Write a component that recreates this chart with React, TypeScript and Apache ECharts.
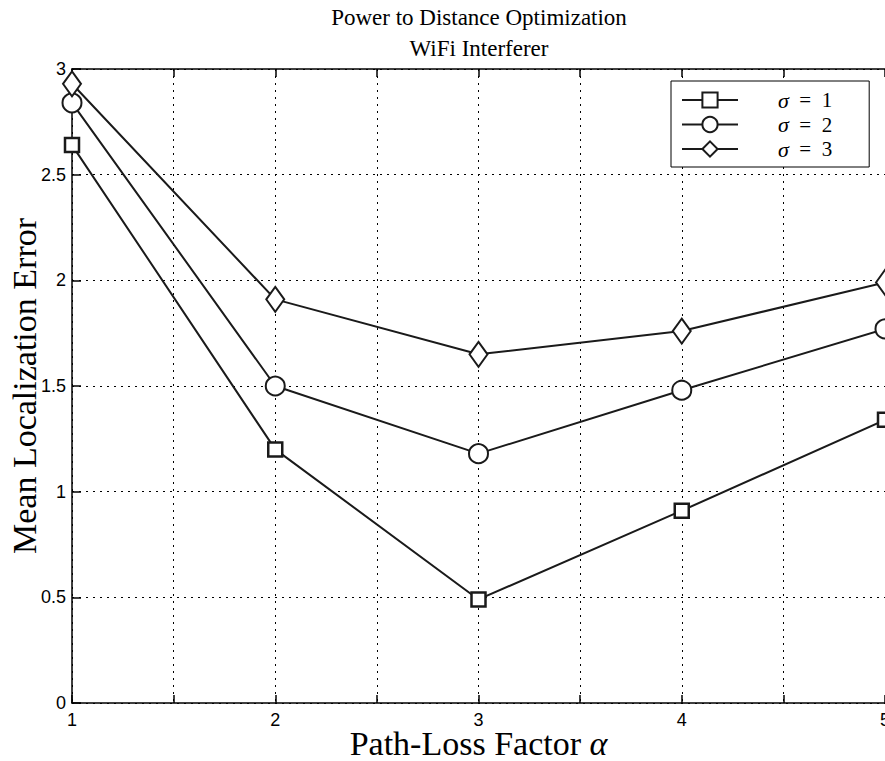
import React, { useEffect, useRef } from "react";
import * as echarts from "echarts";

const xValues = [1, 2, 3, 4, 5];
const sigma1 = [2.64, 1.2, 0.49, 0.91, 1.34];
const sigma2 = [2.84, 1.5, 1.18, 1.48, 1.77];
const sigma3 = [2.93, 1.91, 1.65, 1.76, 1.99];
const seriesNames = ["σ = 1", "σ = 2", "σ = 3"];
const xTickLabels = ["1", "2", "3", "4", "5"];
const titleLines = ["Power to Distance Optimization", "WiFi Interferer"];
const xAxisName = "Path-Loss Factor";
const yAxisName = "Mean Localization Error";

const LINE = "#1a1a1a";
const SERIF = "'Liberation Serif', 'Times New Roman', serif";
const SANS = "'Liberation Sans', Arial, Helvetica, sans-serif";

export default function App() {
  const ref = useRef<HTMLDivElement>(null);
  useEffect(() => {
    if (!ref.current) return;
    const chart = echarts.init(ref.current, undefined, { renderer: "svg" });
    const mk = (name: string, vals: number[], symbol: string, size: any, bw: number) => ({
      name,
      type: "line",
      data: xValues.map((x, i) => [x, vals[i]]),
      symbol,
      symbolSize: size,
      showAllSymbol: true,
      lineStyle: { color: LINE, width: 2 },
      itemStyle: { color: "#ffffff", borderColor: LINE, borderWidth: bw },
      emphasis: { disabled: true },
      clip: false,
    });
    const dotted = { show: true, lineStyle: { color: "#000", width: 1, type: [2, 5] } };
    chart.setOption({
      animation: false,
      backgroundColor: "#ffffff",
      title: {
        text: titleLines.join("\n"),
        left: 479,
        top: 2,
        padding: 0,
        textAlign: "center",
        textStyle: { fontFamily: SERIF, fontSize: 23, fontWeight: "normal", color: "#000", lineHeight: 31 },
      },
      grid: { left: 72, right: 0, top: 69, bottom: 58, containLabel: false, outerBoundsMode: "none" },
      legend: {
        orient: "vertical",
        left: 671,
        top: 81,
        padding: [8, 37, 7, 10],
        borderColor: "#000",
        borderWidth: 1,
        backgroundColor: "#fff",
        itemWidth: 56,
        itemHeight: 19,
        itemGap: 2.5,
        data: seriesNames,
        formatter: (n: string) => `{i|σ}{n|${n.slice(1).replace(/ /g, "  ")}}`,
        textStyle: {
          fontFamily: SERIF,
          fontSize: 21,
          lineHeight: 19,
          color: "#000",
          padding: [0, 0, 0, 35],
          rich: {
            i: { fontFamily: SERIF, fontSize: 22, lineHeight: 19, fontStyle: "italic", color: "#000" },
            n: { fontFamily: SERIF, fontSize: 21, lineHeight: 19, color: "#000" },
          },
        },
      },
      xAxis: [
        {
          type: "value",
          min: 1,
          max: 5,
          interval: 0.5,
          position: "bottom",
          name: xAxisName + " {a|α}",
          nameLocation: "middle",
          nameGap: 23,
          nameMoveOverlap: false,
          nameTextStyle: {
            fontFamily: SERIF,
            fontSize: 34,
            color: "#000",
            rich: { a: { fontFamily: SERIF, fontSize: 34, fontStyle: "italic", color: "#000" } },
          },
          axisLine: { show: true, lineStyle: { color: "#000", width: 1.5 } },
          axisTick: { show: true, inside: true, length: 8, lineStyle: { color: "#000", width: 1.5 } },
          axisLabel: {
            fontFamily: SANS,
            fontSize: 18,
            color: "#000",
            margin: 8,
            showMaxLabel: true,
            showMinLabel: true,
            formatter: (v: number) => {
              const idx = xValues.indexOf(v);
              return idx >= 0 ? xTickLabels[idx] : "";
            },
          },
          splitLine: dotted,
        },
        {
          type: "value",
          min: 1,
          max: 5,
          interval: 0.5,
          position: "top",
          axisLine: { show: true, lineStyle: { color: "#000", width: 1.5 } },
          axisTick: { show: true, inside: true, length: 8, lineStyle: { color: "#000", width: 1.5 } },
          axisLabel: { show: false },
          splitLine: { show: false },
        },
      ],
      yAxis: {
        type: "value",
        min: 0,
        max: 3,
        interval: 0.5,
        name: yAxisName,
        nameLocation: "middle",
        nameGap: 31,
        nameMoveOverlap: false,
        nameTextStyle: { fontFamily: SERIF, fontSize: 34, color: "#000" },
        axisLine: { show: true, lineStyle: { color: "#000", width: 1.5 } },
        axisTick: { show: true, inside: true, length: 9, lineStyle: { color: "#000", width: 1.5 } },
        axisLabel: { fontFamily: SANS, fontSize: 18, color: "#000", margin: 6 },
        splitLine: dotted,
      },
      series: [
        mk(seriesNames[0], sigma1, "rect", 14, 2.5),
        mk(seriesNames[1], sigma2, "circle", 19, 2),
        mk(seriesNames[2], sigma3, "diamond", [18, 25], 2),
      ],
    });
    return () => chart.dispose();
  }, []);
  return (
    <div
      ref={ref}
      style={{ position: "fixed", left: 0, top: 0, width: 885, height: 761, background: "#fff" }}
    />
  );
}
